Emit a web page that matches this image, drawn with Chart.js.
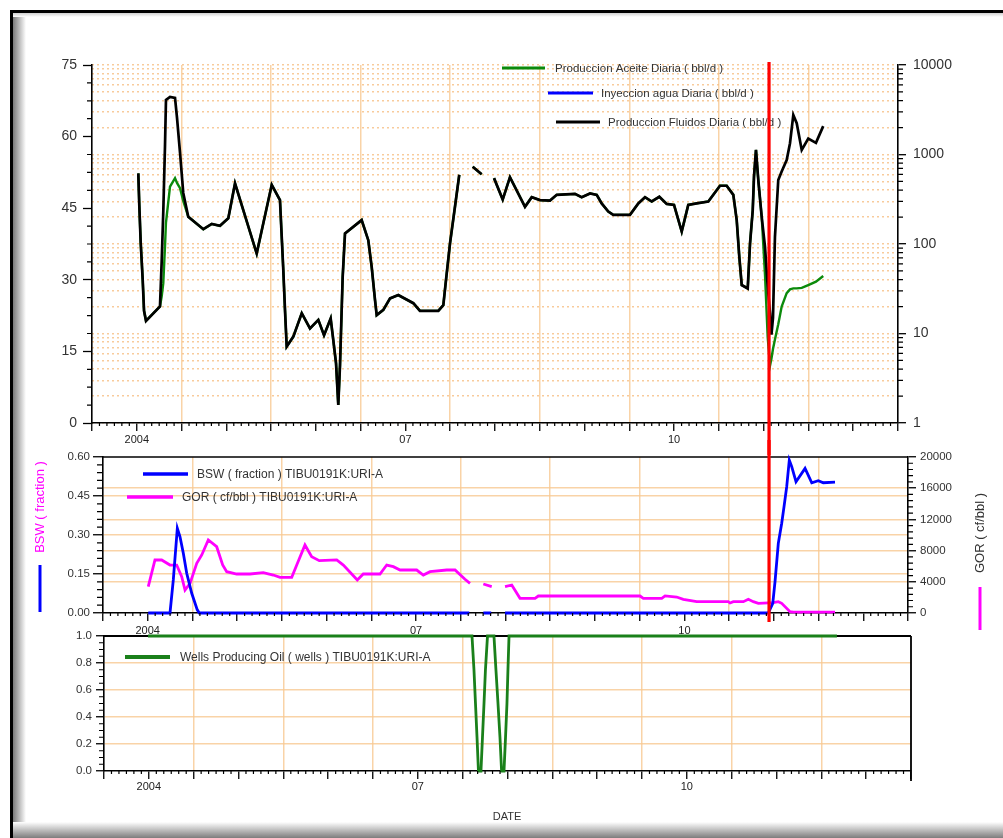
<!DOCTYPE html>
<html>
<head>
<meta charset="utf-8">
<script src="https://cdn.jsdelivr.net/npm/chart.js@4.4.1/dist/chart.umd.min.js"></script>
<style>
html,body{margin:0;padding:0;background:#fff;}
#page{position:relative;width:1003px;height:838px;overflow:hidden;background:#fff;}
.frameTop{position:absolute;left:10px;top:10px;width:993px;height:3px;background:#000;}
.frameLeft{position:absolute;left:10px;top:10px;width:3px;height:828px;background:#000;z-index:5;}
.shadeLeft{position:absolute;left:13px;top:13px;width:13px;height:825px;background:linear-gradient(to right,#7a7a7a,#ffffff);}
.shadeTop{position:absolute;left:13px;top:13px;width:990px;height:4px;background:linear-gradient(to bottom,#d0d0d0,#ffffff);}
.shadeBottom{position:absolute;left:13px;top:822px;width:990px;height:16px;background:linear-gradient(to bottom,#ffffff,#7d7d7d);z-index:4;}
canvas{position:absolute;left:0;}
#c1{top:0;}
#c2{top:440px;}
#c3{top:625px;}
</style>
</head>
<body>
<div id="page">
  <div class="shadeLeft"></div>
  <div class="shadeTop"></div>
  <div class="frameTop"></div>
  <div class="frameLeft"></div>
  <canvas id="c1" width="1003" height="455"></canvas>
  <canvas id="c2" width="1003" height="200"></canvas>
  <canvas id="c3" width="1003" height="213"></canvas>
  <div class="shadeBottom"></div>
</div>
<script>
// ---------------- DATA ----------------
// Dates are decimal years.
const xLabelPositions = [2004.5, 2007.5, 2010.5];
const xLabelTexts = ['2004', '07', '10'];
const logLabelValues = [1, 10, 100, 1000, 10000];
const eventDate = 2011.56; // red vertical marker

const seriesNames = {
  oil: 'Produccion Aceite Diaria ( bbl/d )',
  inj: 'Inyeccion agua Diaria ( bbl/d )',
  fluids: 'Produccion Fluidos Diaria ( bbl/d )',
  bsw: 'BSW ( fraction ) TIBU0191K:URI-A',
  gor: 'GOR ( cf/bbl ) TIBU0191K:URI-A',
  wells: 'Wells Producing Oil ( wells ) TIBU0191K:URI-A'
};

const topDates = [2004.517, 2004.528, 2004.544, 2004.566, 2004.581, 2004.603, 2004.759, 2004.778, 2004.796, 2004.815,
  2004.826, 2004.871, 2004.927, 2004.949, 2004.983, 2005.019, 2005.075, 2005.243, 2005.337, 2005.429,
  2005.522, 2005.597, 2005.839, 2006.007, 2006.099, 2006.136, 2006.155, 2006.174, 2006.248, 2006.342,
  2006.434, 2006.527, 2006.591, 2006.665, 2006.694, 2006.725, 2006.750, 2006.769, 2006.799, 2006.825,
  2007.011, 2007.085, 2007.123, 2007.160, 2007.179, 2007.253, 2007.328, 2007.420, 2007.588, 2007.662,
  2007.867, 2007.923, 2007.953, 2007.998, 2008.053, 2008.101, 2008.170, 2008.251, 2008.351, 2008.420,
  2008.489, 2008.586, 2008.667, 2008.835, 2008.910, 2009.002, 2009.114, 2009.189, 2009.393, 2009.468,
  2009.561, 2009.636, 2009.691, 2009.765, 2009.821, 2010.007, 2010.100, 2010.175, 2010.250, 2010.335,
  2010.417, 2010.499, 2010.585, 2010.658, 2010.752, 2010.882, 2011.012, 2011.087, 2011.161, 2011.199,
  2011.228, 2011.255, 2011.322, 2011.348, 2011.378, 2011.392, 2011.414, 2011.440, 2011.478, 2011.515,
  2011.545, 2011.571, 2011.587, 2011.604, 2011.626, 2011.663, 2011.701, 2011.757, 2011.794, 2011.831,
  2011.869, 2011.925, 2011.998, 2012.084, 2012.165];

const fluidsValues = [52.3, 45.7, 37.7, 30.0, 23.5, 21.4, 24.4, 33.8, 44.3, 58,
  67.7, 68.3, 68.1, 64, 56.6, 48.2, 43.2, 40.6, 41.7, 41.3,
  42.9, 50.2, 35.5, 49.9, 46.7, 32.1, 23.7, 16.0, 18.1, 23.0,
  19.8, 21.6, 18.4, 21.9, 17.4, 12.5, 3.8, 12, 30.6, 39.7,
  42.5, 38.3, 32.7, 25.8, 22.6, 23.7, 26.1, 26.8, 25.1, 23.5,
  23.5, 24.7, 30.0, 37.7, 45.3, 52.0, null, 53.7, 52.1, null,
  51.3, 46.8, 51.5, 45.3, 47.3, 46.7, 46.6, 47.8, 48.0, 47.3,
  48.1, 47.8, 46.0, 44.3, 43.6, 43.6, 46.0, 47.3, 46.4, 47.4,
  45.9, 45.7, 40.1, 45.7, 46.0, 46.4, 49.7, 49.7, 47.8, 42.5,
  34.8, 28.9, 28.2, 37.7, 44.6, 51.6, 57.2, 50.9, 43.2, 36.9,
  28.6, 23.0, 18.5, 22, 39.0, 50.9, 52.7, 55.1, 58.6, 64.5,
  62.8, 57.2, 59.6, 58.7, 62.2];

const oilValues = [52.3, 45.7, 37.7, 30.0, 23.5, 21.4, 24.4, 26.5, 29.3, 37,
  42, 49.5, 51.3, 50.3, 49.2, 46.5, 43.2, 40.6, 41.7, 41.3,
  42.9, 50.2, 35.5, 49.9, 46.7, 32.1, 23.7, 16.0, 18.1, 23.0,
  19.8, 21.6, 18.4, 21.9, 17.4, 12.5, 3.8, 12, 30.6, 39.7,
  42.5, 38.3, 32.7, 25.8, 22.6, 23.7, 26.1, 26.8, 25.1, 23.5,
  23.5, 24.7, 30.0, 37.7, 45.3, 52.0, null, 53.7, 52.1, null,
  51.3, 46.8, 51.5, 45.3, 47.3, 46.7, 46.6, 47.8, 48.0, 47.3,
  48.1, 47.8, 46.0, 44.3, 43.6, 43.6, 46.0, 47.3, 46.4, 47.4,
  45.9, 45.7, 40.1, 45.7, 46.0, 46.4, 49.7, 49.7, 47.8, 42.5,
  34.8, 28.9, 28.2, 37.7, 44.6, 51.6, 57.2, 50.9, 43.2, 31,
  18, 12.0, 13.5, 15.5, 17.5, 20.7, 24.4, 27.2, 28.0, 28.2,
  28.2, 28.3, 28.9, 29.6, 30.8];

const injDates = [];
const injValues = [];

const bswDates = [2004.506, 2004.749, 2004.786, 2004.831, 2004.861, 2004.898, 2004.936, 2004.992, 2005.054, 2005.077,
  2008.095, 2008.170, 2008.252, 2008.340, 2008.420, 2008.495, 2011.438, 2011.488, 2011.513, 2011.550,
  2011.588, 2011.614, 2011.644, 2011.673, 2011.700, 2011.748, 2011.849, 2011.924, 2011.997, 2012.053,
  2012.184];
const bswValues = [0, 0, 0.127, 0.326, 0.293, 0.230, 0.153, 0.076, 0.012, 0,
  0, null, 0, 0, null, 0, 0, 0.037, 0.12, 0.268,
  0.345, 0.409, 0.486, 0.588, 0.563, 0.505, 0.556, 0.501, 0.509, 0.501,
  0.503];

const gorDates = [2004.506, 2004.581, 2004.656, 2004.749, 2004.824, 2004.880, 2004.917, 2004.973, 2005.048, 2005.104,
  2005.177, 2005.271, 2005.338, 2005.383, 2005.495, 2005.644, 2005.792, 2005.904, 2005.979, 2006.110,
  2006.166, 2006.258, 2006.333, 2006.418, 2006.613, 2006.687, 2006.843, 2006.910, 2007.097, 2007.172,
  2007.246, 2007.321, 2007.507, 2007.581, 2007.656, 2007.843, 2007.936, 2008.047, 2008.103, 2008.170,
  2008.252, 2008.346, 2008.420, 2008.495, 2008.570, 2008.662, 2008.830, 2008.867, 2010.004, 2010.041,
  2010.247, 2010.284, 2010.414, 2010.488, 2010.638, 2010.991, 2011.010, 2011.047, 2011.159, 2011.215,
  2011.271, 2011.327, 2011.494, 2011.550, 2011.588, 2011.681, 2011.718, 2012.184];
const gorValues = [3375, 6795, 6800, 6150, 6150, 4650, 2950, 3800, 6370, 7440,
  9360, 8500, 6150, 5300, 5000, 5000, 5170, 4870, 4570, 4570,
  6150, 8720, 7220, 6710, 6800, 6150, 4230, 5000, 5000, 6150,
  5940, 5510, 5510, 4870, 5300, 5510, 5510, 4320, 3800, null,
  3720, 3375, null, 3375, 3590, 1880, 1880, 2180, 2180, 1880,
  1880, 2200, 2050, 1750, 1450, 1450, 1280, 1450, 1450, 1750,
  1450, 1240, 1320, 1450, 1240, 170, 100, 100];

const wellsDates = [2004.491, 2008.104, 2008.126, 2008.143, 2008.160, 2008.176, 2008.204, 2008.221, 2008.238, 2008.254,
  2008.277, 2008.349, 2008.371, 2008.394, 2008.416, 2008.434, 2008.461, 2008.478, 2008.494, 2008.505,
  2008.517, 2012.174];
const wellsValues = [1, 1, 0.75, 0.5, 0.25, 0, 0, 0.25, 0.5, 0.75,
  1, 1, 0.75, 0.5, 0.25, 0, 0, 0.25, 0.5, 0.75,
  1, 1];

// ---------------- STYLE / HELPERS ----------------
const FONT = "'Liberation Sans', Arial, Helvetica, sans-serif";
const GRID = 'rgba(247, 200, 145, 0.8)';
const GRID_DOT = 'rgba(246, 190, 130, 0.8)';
const NONE = 'rgba(0,0,0,0)';
const X_MIN = 2004, X_MAX = 2013;

function range(a, b, step) {
  const out = []; const n = Math.round((b - a) / step);
  for (let i = 0; i <= n; i++) out.push(+(a + i * step).toFixed(6));
  return out;
}
const halfYearTicks = range(X_MIN, X_MAX, 0.5);
const monthTicks = range(X_MIN, X_MAX, 1 / 12).filter(v => Math.abs(v * 2 - Math.round(v * 2)) > 1e-4);
function minorsOf(min, max, step, major) {
  return range(min, max, step).filter(v => Math.abs(v / major - Math.round(v / major)) > 1e-4);
}
const logAll = [];
[1, 10, 100, 1000].forEach(d => { for (let k = 1; k <= 9; k++) logAll.push(k * d); });
logAll.push(10000);
const logMinors = logAll.filter(v => !logLabelValues.includes(v));

function points(dates, values) { return dates.map((d, i) => ({ x: d, y: values[i] })); }
function lineDS(label, dates, values, color, width, axis) {
  return { label, data: points(dates, values), borderColor: color, backgroundColor: color,
    borderWidth: width, pointRadius: 0, tension: 0, spanGaps: false, yAxisID: axis, fill: false,
    borderCapStyle: 'butt', borderJoinStyle: 'miter', clip: 4 };
}
function xAxis(labelPad) {
  return {
    type: 'linear', position: 'bottom', min: X_MIN, max: X_MAX,
    afterBuildTicks: s => { s.ticks = halfYearTicks.map(v => ({ value: v })); },
    afterFit: s => { s.height = 24; },
    grid: {
      color: c => (c.tick && Number.isInteger(c.tick.value) && c.tick.value > X_MIN && c.tick.value < X_MAX) ? GRID : NONE,
      lineWidth: 1.5, tickColor: '#000', tickLength: 8, tickWidth: 1.3
    },
    border: { color: '#000', width: 1.6 },
    ticks: {
      autoSkip: false, maxRotation: 0, minRotation: 0, padding: labelPad, color: '#222',
      font: { family: FONT, size: 11 },
      callback: v => { const i = xLabelPositions.indexOf(v); return i >= 0 ? xLabelTexts[i] : ''; }
    }
  };
}
function innerGrid(min, max) {
  const eps = (max - min) * 1e-3;
  return c => (c.tick && c.tick.value > min + eps && c.tick.value < max - eps) ? GRID : NONE;
}

// plugins
function minorTicks(items) {
  return { id: 'minorTicks', afterDraw(chart) {
    const ctx = chart.ctx;
    for (const it of items) {
      const s = chart.scales[it.scale];
      ctx.save(); ctx.strokeStyle = '#000'; ctx.lineWidth = it.width || 1.2; ctx.beginPath();
      for (const v of it.values) {
        const p = s.getPixelForValue(v);
        if (s.isHorizontal()) { ctx.moveTo(p, s.top); ctx.lineTo(p, s.top + it.len); }
        else if (s.position === 'left') { ctx.moveTo(s.right, p); ctx.lineTo(s.right - it.len, p); }
        else { ctx.moveTo(s.left, p); ctx.lineTo(s.left + it.len, p); }
      }
      ctx.stroke(); ctx.restore();
    }
  } };
}
function legendDraw(items, fontSize) {
  return { id: 'legendDraw', beforeDatasetsDraw(chart) {
    const ctx = chart.ctx; ctx.save();
    for (const it of items) {
      const ds = chart.data.datasets[it.ds];
      ctx.strokeStyle = ds.borderColor; ctx.lineWidth = it.lw; ctx.beginPath();
      ctx.moveTo(it.x1, it.y); ctx.lineTo(it.x2, it.y); ctx.stroke();
      ctx.fillStyle = '#333'; ctx.font = fontSize + 'px ' + FONT; ctx.textBaseline = 'middle'; ctx.textAlign = 'left';
      ctx.fillText(ds.label, it.tx, it.y + 0.5);
    }
    ctx.restore();
  } };
}
function frameDraw(opts) {
  const draw = chart => {
    const a = chart.chartArea, ctx = chart.ctx; ctx.save();
    ctx.strokeStyle = '#000'; ctx.lineWidth = opts.lw || 1.6; ctx.beginPath();
    if (opts.top) { ctx.moveTo(a.left, a.top); ctx.lineTo(a.right, a.top); }
    if (opts.right) { ctx.moveTo(a.right, a.top); ctx.lineTo(a.right, a.bottom + (opts.rightExtra || 0)); }
    ctx.stroke(); ctx.restore();
  };
  return { id: 'frameDraw', beforeDatasetsDraw: draw };
}
function redLine(getX, y1fn, y2fn) {
  return { id: 'redLine', afterDraw(chart) {
    const ctx = chart.ctx, x = getX(chart); ctx.save();
    ctx.strokeStyle = '#ff0000'; ctx.lineWidth = 3.2; ctx.beginPath();
    ctx.moveTo(x, y1fn(chart)); ctx.lineTo(x, y2fn(chart)); ctx.stroke(); ctx.restore();
  } };
}
function textDraw(items) {
  return { id: 'textDraw', afterDraw(chart) {
    const ctx = chart.ctx;
    for (const t of items) {
      ctx.save(); ctx.translate(t.x, t.y); if (t.rot) ctx.rotate(t.rot);
      ctx.fillStyle = t.color; ctx.font = t.size + 'px ' + FONT; ctx.textAlign = 'center'; ctx.textBaseline = 'middle';
      ctx.fillText(t.text, 0, 0); ctx.restore();
      if (t.bar) {
        ctx.save(); ctx.strokeStyle = t.bar.color; ctx.lineWidth = 3; ctx.beginPath();
        ctx.moveTo(t.x, t.bar.y1); ctx.lineTo(t.x, t.bar.y2); ctx.stroke(); ctx.restore();
      }
    }
  } };
}
const base = { responsive: false, animation: false, events: [],
  plugins: { legend: { display: false }, tooltip: { enabled: false } } };

// ---------------- TOP CHART ----------------
const topChart = new Chart(document.getElementById('c1'), {
  type: 'line',
  data: { datasets: [
    lineDS(seriesNames.fluids, topDates, fluidsValues, '#000000', 2.7, 'yL'),
    lineDS(seriesNames.oil, topDates, oilValues, '#0b8a0b', 2.4, 'yL'),
    lineDS(seriesNames.inj, injDates, injValues, '#0000ff', 2.6, 'yR')
  ] },
  options: Object.assign({}, base, {
    layout: { padding: { left: 52, right: 35, top: 65, bottom: 8 } },
    scales: {
      x: xAxis(2),
      yL: { type: 'linear', position: 'left', min: 0, max: 75,
        afterFit: s => { s.width = 40; },
        ticks: { stepSize: 15, padding: 6, color: '#333', font: { family: FONT, size: 14 } },
        grid: { drawOnChartArea: false, tickLength: 9, tickColor: '#000', tickWidth: 1.3 },
        border: { color: '#000', width: 1.6 } },
      yR: { type: 'logarithmic', position: 'right', min: 1, max: 10000,
        afterFit: s => { s.width = 70; },
        afterBuildTicks: s => { s.ticks = logAll.map(v => ({ value: v })); },
        ticks: { autoSkip: false, padding: 7, color: '#333', font: { family: FONT, size: 14 },
          callback: v => logLabelValues.includes(v) ? String(v) : '' },
        grid: { color: GRID_DOT, lineWidth: 1.4, tickLength: 8, tickWidth: 1.3,
          tickColor: c => (c.tick && logLabelValues.includes(c.tick.value)) ? '#000' : NONE },
        border: { color: '#000', width: 1.6, dash: [2, 3] } }
    }
  }),
  plugins: [
    legendDraw([
      { ds: 1, x1: 502, x2: 545, y: 68, tx: 555, lw: 3 },
      { ds: 2, x1: 548, x2: 593, y: 93, tx: 601, lw: 3 },
      { ds: 0, x1: 556, x2: 600, y: 122, tx: 608, lw: 3 }
    ], 11.5),
    minorTicks([
      { scale: 'yL', values: minorsOf(0, 75, 3.75, 15), len: 5 },
      { scale: 'yR', values: logMinors, len: 5 },
      { scale: 'x', values: monthTicks, len: 3 }
    ]),
    redLine(ch => ch.scales.x.getPixelForValue(eventDate), ch => ch.chartArea.top - 3, ch => ch.height)
  ]
});

// ---------------- MIDDLE CHART ----------------
const midChart = new Chart(document.getElementById('c2'), {
  type: 'line',
  data: { datasets: [
    lineDS(seriesNames.bsw, bswDates, bswValues, '#0000ff', 2.8, 'yL'),
    lineDS(seriesNames.gor, gorDates, gorValues, '#ff00ff', 2.8, 'yR')
  ] },
  options: Object.assign({}, base, {
    layout: { padding: { left: 58, right: 35, top: 17, bottom: 3 } },
    scales: {
      x: xAxis(3),
      yL: { type: 'linear', position: 'left', min: 0, max: 0.6,
        afterFit: s => { s.width = 45; },
        ticks: { stepSize: 0.15, padding: 3, color: '#333', font: { family: FONT, size: 11.5 }, callback: v => v.toFixed(2) },
        grid: { color: innerGrid(0, 0.6), lineWidth: 1.5, tickLength: 10, tickColor: '#000', tickWidth: 1.3 },
        border: { color: '#000', width: 1.6 } },
      yR: { type: 'linear', position: 'right', min: 0, max: 20000,
        afterFit: s => { s.width = 60; },
        ticks: { stepSize: 4000, padding: 4, color: '#333', font: { family: FONT, size: 11.5 }, callback: v => String(Math.round(v)) },
        grid: { color: innerGrid(0, 20000), lineWidth: 1.5, tickLength: 8, tickColor: '#000', tickWidth: 1.3 },
        border: { color: '#000', width: 1.6 } }
    }
  }),
  plugins: [
    legendDraw([
      { ds: 0, x1: 143, x2: 188, y: 34, tx: 197, lw: 3.5 },
      { ds: 1, x1: 127, x2: 173, y: 57, tx: 182, lw: 3.5 }
    ], 12),
    minorTicks([
      { scale: 'yL', values: minorsOf(0, 0.6, 0.03, 0.15), len: 6 },
      { scale: 'yR', values: minorsOf(0, 20000, 800, 4000), len: 5 },
      { scale: 'x', values: monthTicks, len: 3 }
    ]),
    frameDraw({ top: true }),
    textDraw([
      { text: 'BSW ( fraction )', x: 40, y: 67, rot: -Math.PI / 2, color: '#ff00ff', size: 13, bar: { color: '#0000ff', y1: 125, y2: 172 } },
      { text: 'GOR ( cf/bbl )', x: 980, y: 93, rot: -Math.PI / 2, color: '#333', size: 13, bar: { color: '#ff00ff', y1: 147, y2: 190 } }
    ]),
    redLine(() => topChart.scales.x.getPixelForValue(eventDate), () => 0, ch => ch.chartArea.bottom + 9)
  ]
});

// ---------------- BOTTOM CHART ----------------
const botChart = new Chart(document.getElementById('c3'), {
  type: 'line',
  data: { datasets: [
    lineDS(seriesNames.wells, wellsDates, wellsValues, '#1a801a', 2.8, 'yL')
  ] },
  options: Object.assign({}, base, {
    layout: { padding: { left: 64, right: 92, top: 11, bottom: 43 } },
    scales: {
      x: xAxis(1),
      yL: { type: 'linear', position: 'left', min: 0, max: 1,
        afterFit: s => { s.width = 40; },
        ticks: { stepSize: 0.2, padding: 4, color: '#333', font: { family: FONT, size: 11.5 }, callback: v => v.toFixed(1) },
        grid: { color: innerGrid(0, 1), lineWidth: 1.5, tickLength: 8, tickColor: '#000', tickWidth: 1.3 },
        border: { color: '#000', width: 1.6 } }
    }
  }),
  plugins: [
    frameDraw({ top: true, right: true, rightExtra: 10, lw: 1.8 }),
    legendDraw([
      { ds: 0, x1: 125, x2: 170, y: 32, tx: 180, lw: 4 }
    ], 12),
    minorTicks([
      { scale: 'yL', values: minorsOf(0, 1, 0.05, 0.2), len: 5 },
      { scale: 'x', values: monthTicks, len: 3 }
    ]),
    textDraw([
      { text: 'DATE', x: 507, y: 192, color: '#333', size: 11 }
    ])
  ]
});
</script>
</body>
</html>
